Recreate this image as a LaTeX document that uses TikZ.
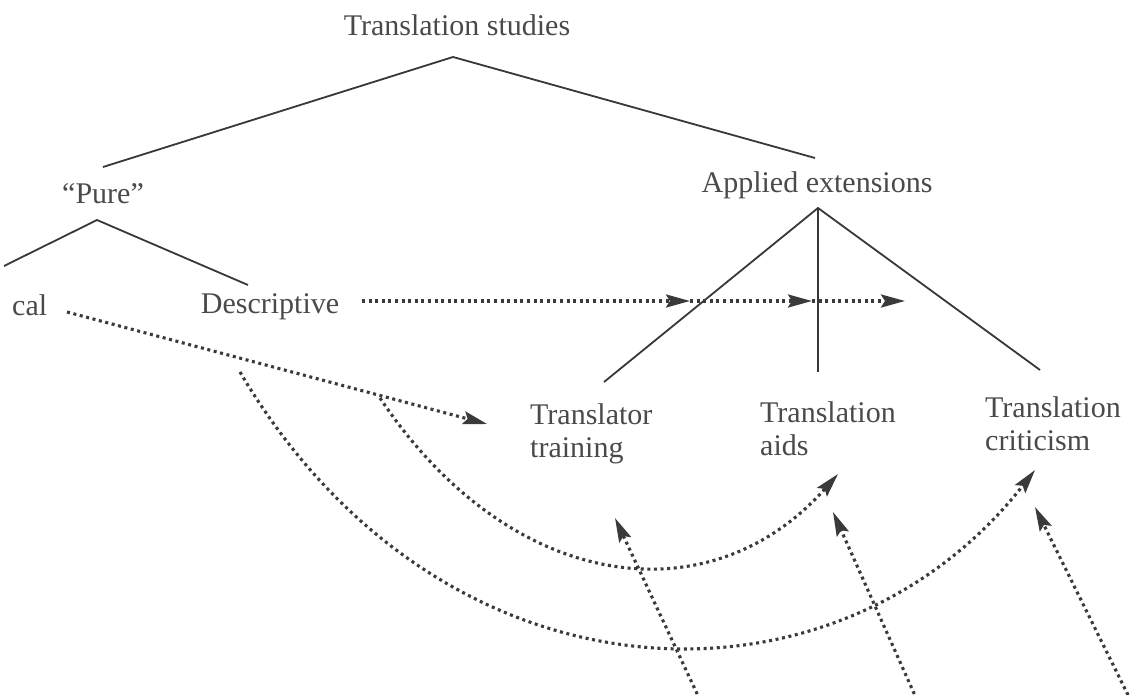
\documentclass[tikz,border=0pt]{standalone}
\usepackage{fontspec}
\setmainfont{Liberation Serif}
\usetikzlibrary{arrows.meta}
\definecolor{txt}{HTML}{4A4A4A}
\definecolor{ink}{HTML}{383838}
\definecolor{dotc}{HTML}{3A3A3A}
\tikzset{
  lbl/.style={font=\fontsize{30}{33}\selectfont, text=txt, inner sep=0pt},
  tree/.style={draw=ink, line width=1.8pt},
  dotarrow/.style={draw=dotc, line width=3.1pt, dash pattern=on 3pt off 3.6pt,
    -{Stealth[length=24pt,width=13pt,inset=4pt]}},
}
\begin{document}
\begin{tikzpicture}[x=1pt,y=-1pt]
\useasboundingbox (0,0) rectangle (1131,695);
\fill[white] (0,0) rectangle (1131,695);

% labels
\node[lbl, anchor=base] (ts) at (457,36) {Translation studies};
\node[lbl, anchor=base] (pure) at (103,203) {``Pure''};
\node[lbl, anchor=base] (app) at (817,193) {Applied extensions};
\node[lbl, anchor=base west] (theo) at (12,315) {cal};
\node[lbl, anchor=base] (desc) at (270,313) {Descriptive};
\node[lbl, anchor=north west, align=left] (train) at (530,403) {Translator\\training};
\node[lbl, anchor=north west, align=left] (aids) at (760,401) {Translation\\aids};
\node[lbl, anchor=north west, align=left] (crit) at (985,396) {Translation\\criticism};

% tree coordinates
\coordinate (tsA) at (453,57);
\coordinate (pureT) at (103,167);
\coordinate (appT) at (815,158);
\coordinate (pureA) at (97,220);
\coordinate (theoT) at (4,266);
\coordinate (descT) at (248,285);
\coordinate (appA) at (818,208);
\coordinate (trainT) at (604,382);
\coordinate (aidsT) at (818,372);
\coordinate (critT) at (1040,370);

\draw[tree] (pureT) -- (tsA) -- (appT);
\draw[tree] (theoT) -- (pureA) -- (descT);
\draw[tree] (trainT) -- (appA) -- (critT);
\draw[tree] (appA) -- (aidsT);

% dotted arrow coordinates
\coordinate (descR) at (362,301);
\coordinate (h1) at (690,301);
\coordinate (h2) at (812,301);
\coordinate (h3) at (905,301);
\coordinate (theoR) at (67,312);
\coordinate (trainL) at (487,424);
\coordinate (inS) at (380,398);
\coordinate (aidsB) at (838,474);
\coordinate (outS) at (240,372);
\coordinate (critB) at (1035,470);
\coordinate (trainB) at (615,518);
\coordinate (aidsB2) at (833,512);
\coordinate (critB2) at (1035,507);
\coordinate (b1) at (700,700);
\coordinate (b2) at (917,700);
\coordinate (b3) at (1128,695);

\draw[dotarrow] (descR) -- (h1);
\draw[dotarrow] (h1) -- (h2);
\draw[dotarrow] (h2) -- (h3);
\draw[dotarrow] (theoR) -- (trainL);
\draw[dotarrow] (inS) .. controls (510,593) and (710,619) .. (aidsB);
\draw[dotarrow] (outS) .. controls (440,712) and (835,726) .. (critB);
\draw[dotarrow] (b1) -- (trainB);
\draw[dotarrow] (b2) -- (aidsB2);
\draw[dotarrow] (b3) -- (critB2);
\end{tikzpicture}
\end{document}
